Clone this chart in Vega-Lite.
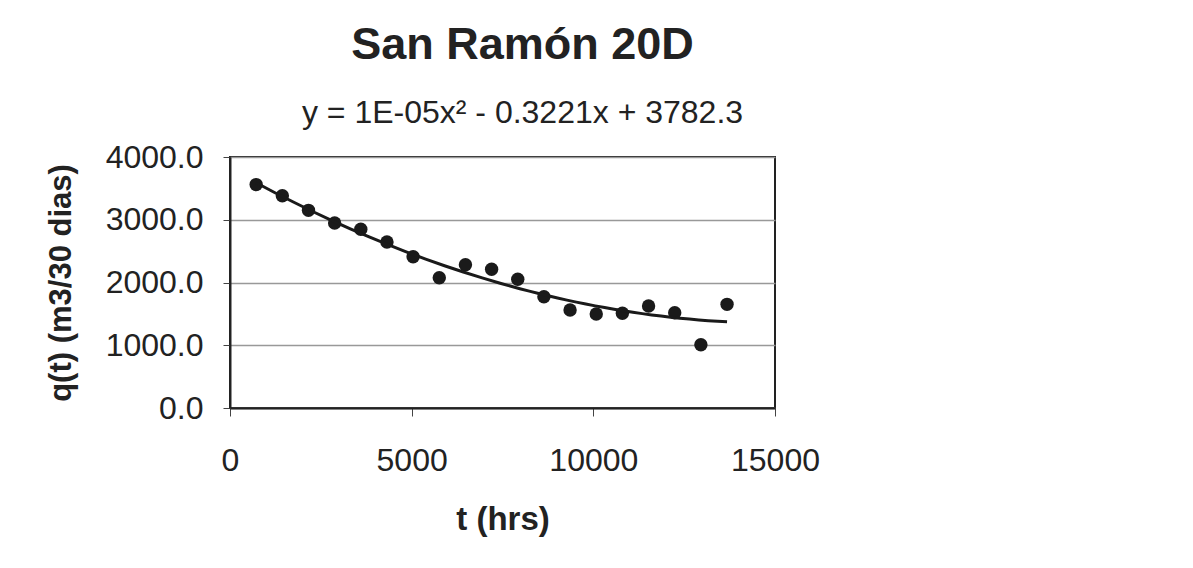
{
  "$schema": "https://vega.github.io/schema/vega-lite/v6.json",
  "width": 545,
  "height": 251,
  "autosize": {"type": "none"},
  "padding": {"left": 230, "top": 157, "right": 418, "bottom": 160},
  "background": "white",
  "config": {"font": "Liberation Sans", "view": {"stroke": "#222", "strokeWidth": 2}},
  "title": {
    "text": "San Ramón 20D",
    "subtitle": "y = 1E-05x² - 0.3221x + 3782.3",
    "fontSize": 45,
    "fontWeight": "bold",
    "subtitleFontSize": 32,
    "color": "#222",
    "subtitleColor": "#222",
    "anchor": "middle",
    "dx": 20,
    "offset": 12,
    "subtitlePadding": 30,
    "font": "Liberation Sans",
    "subtitleFont": "Liberation Sans"
  },
  "data": {
    "values": [
      {"t": 720, "q": 3560},
      {"t": 1440, "q": 3383},
      {"t": 2160, "q": 3150},
      {"t": 2880, "q": 2948},
      {"t": 3600, "q": 2848},
      {"t": 4320, "q": 2645},
      {"t": 5040, "q": 2411},
      {"t": 5760, "q": 2077},
      {"t": 6480, "q": 2284},
      {"t": 7200, "q": 2210},
      {"t": 7920, "q": 2051},
      {"t": 8640, "q": 1774},
      {"t": 9360, "q": 1562},
      {"t": 10080, "q": 1498},
      {"t": 10800, "q": 1509},
      {"t": 11520, "q": 1625},
      {"t": 12240, "q": 1519},
      {"t": 12960, "q": 1009},
      {"t": 13680, "q": 1652}
    ]
  },
  "layer": [
    {
      "mark": {"type": "point", "filled": true, "size": 180, "color": "#1a1a1a", "opacity": 1},
      "encoding": {
        "x": {
          "field": "t",
          "type": "quantitative",
          "scale": {"domain": [0, 15000], "nice": false},
          "axis": {
            "title": "t (hrs)",
            "values": [0, 5000, 10000, 15000],
            "format": "d",
            "grid": false,
            "domainColor": "#222",
            "domainWidth": 2,
            "tickColor": "#444",
            "tickSize": 8,
            "labelFontSize": 32,
            "labelPadding": 29,
            "labelColor": "#222",
            "labelFlush": false,
            "titleFontSize": 33,
            "titleFontWeight": "bold",
            "titlePadding": 27,
            "titleColor": "#222"
          }
        },
        "y": {
          "field": "q",
          "type": "quantitative",
          "scale": {"domain": [0, 4000], "nice": false},
          "axis": {
            "title": "q(t) (m3/30 dias)",
            "values": [0, 1000, 2000, 3000, 4000],
            "format": ".1f",
            "grid": true,
            "gridColor": "#999",
            "gridWidth": 1.5,
            "domainColor": "#222",
            "domainWidth": 2,
            "tickColor": "#444",
            "tickSize": 7,
            "labelPadding": 20,
            "labelFontSize": 32,
            "labelColor": "#222",
            "titleFontSize": 31,
            "titleFontWeight": "bold",
            "titlePadding": 28,
            "titleColor": "#222"
          }
        }
      }
    },
    {
      "transform": [{"regression": "q", "on": "t", "method": "poly", "order": 2}],
      "mark": {"type": "line", "color": "#1a1a1a", "strokeWidth": 3},
      "encoding": {
        "x": {"field": "t", "type": "quantitative"},
        "y": {"field": "q", "type": "quantitative"}
      }
    }
  ]
}
